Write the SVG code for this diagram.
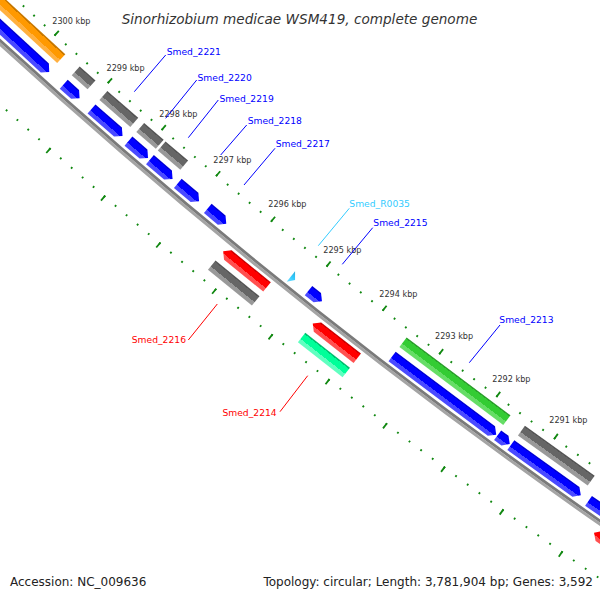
<svg xmlns="http://www.w3.org/2000/svg" width="600" height="600" viewBox="0 0 600 600">
<defs>
<linearGradient id="gBlue" x1="0" y1="0" x2="0" y2="1"><stop offset="0" stop-color="#0000d4"/><stop offset="0.12" stop-color="#0000d4"/><stop offset="0.12" stop-color="#0000ff"/><stop offset="0.64" stop-color="#0000ff"/><stop offset="0.64" stop-color="#4a4aff"/><stop offset="1" stop-color="#4a4aff"/></linearGradient>
<linearGradient id="gGray" x1="0" y1="0" x2="0" y2="1"><stop offset="0" stop-color="#555"/><stop offset="0.12" stop-color="#555"/><stop offset="0.12" stop-color="#666"/><stop offset="0.64" stop-color="#666"/><stop offset="0.64" stop-color="#999"/><stop offset="1" stop-color="#999"/></linearGradient>
<linearGradient id="gOrange" x1="0" y1="0" x2="0" y2="1"><stop offset="0" stop-color="#c87800"/><stop offset="0.14" stop-color="#c87800"/><stop offset="0.14" stop-color="#ff9900"/><stop offset="0.64" stop-color="#ff9900"/><stop offset="0.64" stop-color="#ffb040"/><stop offset="1" stop-color="#ffb040"/></linearGradient>
<linearGradient id="gGreen" x1="0" y1="0" x2="0" y2="1"><stop offset="0" stop-color="#2a9f2a"/><stop offset="0.12" stop-color="#2a9f2a"/><stop offset="0.12" stop-color="#33cc33"/><stop offset="0.64" stop-color="#33cc33"/><stop offset="0.64" stop-color="#66dd66"/><stop offset="1" stop-color="#66dd66"/></linearGradient>
<linearGradient id="gRed" x1="0" y1="0" x2="0" y2="1"><stop offset="0" stop-color="#d00000"/><stop offset="0.12" stop-color="#d00000"/><stop offset="0.12" stop-color="#ff0000"/><stop offset="0.64" stop-color="#ff0000"/><stop offset="0.64" stop-color="#ff5050"/><stop offset="1" stop-color="#ff5050"/></linearGradient>
<linearGradient id="gTeal" x1="0" y1="0" x2="0" y2="1"><stop offset="0" stop-color="#00c070"/><stop offset="0.12" stop-color="#00c070"/><stop offset="0.12" stop-color="#00ff99"/><stop offset="0.64" stop-color="#00ff99"/><stop offset="0.64" stop-color="#60ffc0"/><stop offset="1" stop-color="#60ffc0"/></linearGradient>
<linearGradient id="gCyan" x1="0" y1="0" x2="0" y2="1"><stop offset="0" stop-color="#2aaad8"/><stop offset="0.5" stop-color="#33ccff"/><stop offset="1" stop-color="#80e0ff"/></linearGradient>
</defs>
<style>
.txt{font-family:"DejaVu Sans","Liberation Sans",sans-serif}
.title{font-size:13.6px;font-style:italic;fill:#333}
.foot{font-size:12px;fill:#222}
.kbp{font-size:8.1px;fill:#333}
.lab{font-size:9.2px}
.blue{fill:#0000ff}
.red{fill:#ff0000}
.cyan{fill:#33ccff}
.tick{fill:none;stroke:#118811}
.lead{stroke-width:1;fill:none}
.fb{fill:url(#gBlue)}
.fg{fill:url(#gGray)}
.fo{fill:url(#gOrange)}
.fgr{fill:url(#gGreen)}
.fr{fill:url(#gRed)}
.ft{fill:url(#gTeal)}
.fc{fill:url(#gCyan)}
</style>
<rect width="600" height="600" fill="#fff"/>
<g id="ticks">
<path class="tick" d="M-48.08 -63.65A5831.25 5831.25 0 0 0 731.84 558.44" pathLength="14" stroke-width="6.5" stroke-dasharray="0.0252 0.9748" stroke-dashoffset="0.0126"/>
<path class="tick" d="M-49.56 -62.09A5833.4 5833.4 0 0 0 730.64 560.23" pathLength="70" stroke-width="2" stroke-dasharray="0.126 0.874" stroke-dashoffset="0.063"/>
<path class="tick" d="M-112.07 3.83A5924.25 5924.25 0 0 0 680.28 635.84" pathLength="14" stroke-width="6.5" stroke-dasharray="0.0248 0.9752" stroke-dashoffset="0.0124"/>
<path class="tick" d="M-110.52 2.2A5922 5922 0 0 0 681.53 633.97" pathLength="70" stroke-width="2" stroke-dasharray="0.124 0.876" stroke-dashoffset="0.062"/>
</g>
<g id="backbone">
<circle cx="3964.5" cy="-4294.8" r="5874.6" fill="none" stroke="#7a7a7a" stroke-width="2.9"/>
<circle cx="3964.5" cy="-4294.8" r="5877.4" fill="none" stroke="#a4a4a4" stroke-width="2.9"/>
</g>
<g id="kbp-labels" class="txt kbp">
<text x="52.3" y="24">2300 kbp</text>
<text x="106.5" y="70.7">2299 kbp</text>
<text x="159.3" y="116.7">2298 kbp</text>
<text x="213.3" y="162.7">2297 kbp</text>
<text x="268.3" y="207.3">2296 kbp</text>
<text x="323.3" y="252.7">2295 kbp</text>
<text x="379.3" y="296.7">2294 kbp</text>
<text x="435" y="339.3">2293 kbp</text>
<text x="492.3" y="381.7">2292 kbp</text>
<text x="549.3" y="423.3">2291 kbp</text>
</g>
<g id="features">
<g id="f2300" transform="translate(3964.5 -4294.8) rotate(42.678) translate(0 5876)">
<rect class="fo" x="-90" y="-35.5" width="171.55" height="12"/>
<path class="fb" d="M-90 -17.5H75.8L81.8 -11.5L75.8 -5.5H-90Z"/>
</g>
<g id="f2299" transform="translate(3964.5 -4294.8) rotate(41.59) translate(0 5876)">
<rect class="fg" x="-10.55" y="-35.5" width="21.1" height="12"/>
<path class="fb" d="M-10.58 -17.5H4.58L10.58 -11.5L4.58 -5.5H-10.58Z"/>
</g>
<g id="Smed_2221" transform="translate(3964.5 -4294.8) rotate(41.13) translate(0 5876)">
<rect class="fg" x="-20.5" y="-35.5" width="41" height="12"/>
<path class="fb" d="M-20.56 -17.5H14.56L20.56 -11.5L14.56 -5.5H-20.56Z"/>
</g>
<g id="Smed_2220" transform="translate(3964.5 -4294.8) rotate(40.726) translate(0 5876)">
<rect class="fg" x="-12.88" y="-35.5" width="25.76" height="12"/>
<path class="fb" d="M-12.92 -17.5H6.92L12.92 -11.5L6.92 -5.5H-12.92Z"/>
</g>
<g id="Smed_2219" transform="translate(3964.5 -4294.8) rotate(40.43) translate(0 5876)">
<rect class="fg" x="-14.81" y="-35.5" width="29.62" height="12"/>
<path class="fb" d="M-14.85 -17.5H8.85L14.85 -11.5L8.85 -5.5H-14.85Z"/>
</g>
<g id="Smed_2218" transform="translate(3964.5 -4294.8) rotate(40.082) translate(0 5876)">
<path class="fb" d="M-13.92 -17.5H7.92L13.92 -11.5L7.92 -5.5H-13.92Z"/>
</g>
<g id="Smed_2217" transform="translate(3964.5 -4294.8) rotate(39.718) translate(0 5876)">
<path class="fb" d="M-12.02 -17.5H6.02L12.02 -11.5L6.02 -5.5H-12.02Z"/>
</g>
<g id="Smed_2216" transform="translate(3964.5 -4294.8) rotate(39.179) translate(0 5876)">
<rect class="fg" x="-28.36" y="23.5" width="56.72" height="12"/>
<path class="fr" d="M-28.27 11.5L-22.27 5.5H28.27V17.5H-22.27Z"/>
</g>
<g id="Smed_R0035" transform="translate(3964.5 -4294.8) rotate(38.76) translate(0 5876)">
<path class="fc" d="M-2.7 -18.2L2.7 -11.5L-2.7 -4.8Z"/>
</g>
<g id="Smed_2215" transform="translate(3964.5 -4294.8) rotate(38.4815) translate(0 5876)">
<path class="fb" d="M-8.61 -17.5H2.61L8.61 -11.5L2.61 -5.5H-8.61Z"/>
</g>
<g id="Smed_2214" transform="translate(3964.5 -4294.8) rotate(38.059) translate(0 5876)">
<rect class="ft" x="-28.36" y="23.5" width="56.72" height="12"/>
<path class="fr" d="M-28.27 11.5L-22.27 5.5H28.27V17.5H-22.27Z"/>
</g>
<g id="Smed_2213" transform="translate(3964.5 -4294.8) rotate(36.89) translate(0 5876)">
<rect class="fgr" x="-64.92" y="-35.5" width="129.84" height="12"/>
<path class="fb" d="M-65.11 -17.5H59.11L65.11 -11.5L59.11 -5.5H-65.11Z"/>
</g>
<g id="f2291a" transform="translate(3964.5 -4294.8) rotate(36.166) translate(0 5876)">
<path class="fb" d="M-7.53 -17.5H1.53L7.53 -11.5L1.53 -5.5H-7.53Z"/>
</g>
<g id="f2291b" transform="translate(3964.5 -4294.8) rotate(35.658) translate(0 5876)">
<rect class="fg" x="-42.92" y="-35.5" width="85.84" height="12"/>
<path class="fb" d="M-43.05 -17.5H37.05L43.05 -11.5L37.05 -5.5H-43.05Z"/>
</g>
<g id="f2290" transform="translate(3964.5 -4294.8) rotate(34.581) translate(0 5876)">
<rect class="fb" x="-57.65" y="-17.5" width="130" height="12"/>
</g>
<g id="f2289" transform="translate(3964.5 -4294.8) rotate(34.456) translate(0 5876)">
<path class="fr" d="M-47.9 11.5L-41.9 5.5H60V17.5H-41.9Z"/>
</g>
</g>
<g id="connectors" class="lead">
<line x1="134.3" y1="91.7" x2="165.7" y2="55" stroke="#0000ff"/>
<line x1="165.7" y1="118.3" x2="196.7" y2="80" stroke="#0000ff"/>
<line x1="188.3" y1="137.7" x2="218.3" y2="100" stroke="#0000ff"/>
<line x1="220.7" y1="155" x2="246.7" y2="125" stroke="#0000ff"/>
<line x1="244" y1="185" x2="275" y2="148.3" stroke="#0000ff"/>
<line x1="318.3" y1="245.7" x2="349.3" y2="208.3" stroke="#33ccff"/>
<line x1="342.3" y1="264.3" x2="372.7" y2="227.7" stroke="#0000ff"/>
<line x1="469.3" y1="362.7" x2="500" y2="325" stroke="#0000ff"/>
<line x1="217.3" y1="304" x2="188.3" y2="340" stroke="#ff0000"/>
<line x1="307.7" y1="375.7" x2="280" y2="411.7" stroke="#ff0000"/>
</g>
<g id="labels" class="txt lab">
<text class="blue" x="166.7" y="55.2">Smed_2221</text>
<text class="blue" x="197.5" y="80.5">Smed_2220</text>
<text class="blue" x="219.5" y="101.5">Smed_2219</text>
<text class="blue" x="247.7" y="123.6">Smed_2218</text>
<text class="blue" x="275.7" y="146.8">Smed_2217</text>
<text class="cyan" x="349.3" y="206.8">Smed_R0035</text>
<text class="blue" x="373.3" y="226">Smed_2215</text>
<text class="blue" x="499.3" y="322.8">Smed_2213</text>
<text class="red" x="186" y="343.4" text-anchor="end">Smed_2216</text>
<text class="red" x="276.7" y="415.7" text-anchor="end">Smed_2214</text>
</g>
<g id="header-footer" class="txt">
<text class="title" x="299.5" y="23.5" text-anchor="middle">Sinorhizobium medicae WSM419, complete genome</text>
<text class="foot" x="10" y="586">Accession: NC_009636</text>
<text class="foot" x="593" y="586" text-anchor="end">Topology: circular; Length: 3,781,904 bp; Genes: 3,592</text>
</g>
</svg>
